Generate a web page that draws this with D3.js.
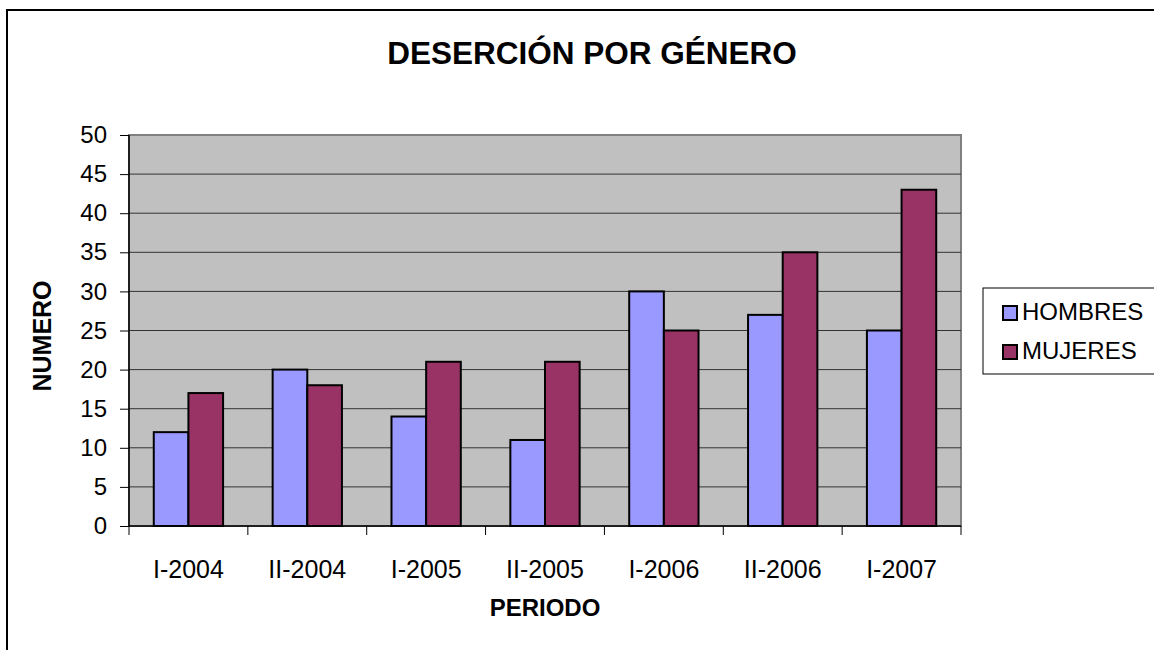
<!DOCTYPE html>
<html><head><meta charset="utf-8">
<script src="https://cdn.jsdelivr.net/npm/d3@7"></script>
<style>body{margin:0;background:#fff}svg{display:block;font-family:"Liberation Sans",Arial,sans-serif}</style>
</head><body><svg id="c" width="1154" height="650"></svg>
<script>
const categories = ["I-2004","II-2004","I-2005","II-2005","I-2006","II-2006","I-2007"];
const seriesNames = ["HOMBRES","MUJERES"];
const hombres = [12,20,14,11,30,27,25];
const mujeres = [17,18,21,21,25,35,43];
const yTicks = [0,5,10,15,20,25,30,35,40,45,50];
const colors = ["#9999FF","#993366"];

const svg = d3.select("#c");
const L=129, R=961, T=135, B=526;
const FF = "Liberation Sans, Arial, sans-serif";

svg.append("rect").attr("x",7).attr("y",10).attr("width",1200).attr("height",700)
  .attr("fill","#fff").attr("stroke","#000").attr("stroke-width",2);

const x = d3.scaleBand().domain(categories).range([L,R]).padding(0);
const y = d3.scaleLinear().domain([0,50]).range([B,T]);
const barW = x.bandwidth()/3.43;

svg.append("rect").attr("x",L).attr("y",T).attr("width",R-L).attr("height",B-T)
  .attr("fill","#C0C0C0").attr("stroke","#808080").attr("stroke-width",2);

svg.append("g").selectAll("line").data(yTicks.filter(d=>d>0&&d<50)).join("line")
  .attr("x1",L).attr("x2",R).attr("y1",d=>y(d)).attr("y2",d=>y(d))
  .attr("stroke","#333").attr("stroke-width",1);

const data = categories.map((c,i)=>({c, v:[hombres[i],mujeres[i]]}));
const g = svg.append("g");
data.forEach(d=>{
  d.v.forEach((v,j)=>{
    const cx = x(d.c)+x.bandwidth()/2;
    g.append("rect").attr("x",cx-barW+j*barW).attr("y",y(v)).attr("width",barW).attr("height",y(0)-y(v))
      .attr("fill",colors[j]).attr("stroke","#000").attr("stroke-width",2);
  });
});

const yAxis = d3.axisLeft(y).tickValues(yTicks).tickSize(9).tickPadding(13);
const ya = svg.append("g").attr("transform",`translate(${L},0)`).call(yAxis);
ya.attr("font-size",24).attr("font-family",FF);
ya.select(".domain").attr("stroke","#000").attr("stroke-width",1.5).attr("d",`M0,${T}V${B}`);
ya.selectAll(".tick line").attr("stroke","#000");
ya.selectAll("text").attr("fill","#000");

const xAxis = d3.axisBottom(x).tickSize(0).tickPadding(44);
const xa = svg.append("g").attr("transform",`translate(0,${B})`).call(xAxis);
xa.attr("font-size",25).attr("font-family",FF);
xa.select(".domain").attr("stroke","#000").attr("stroke-width",1.5).attr("d",`M${L},0H${R}`);
xa.selectAll("text").attr("fill","#000").attr("dy","0.32em");
const sep = categories.map(c=>x(c)).concat([R]);
svg.append("g").selectAll("line").data(sep).join("line")
  .attr("x1",d=>d).attr("x2",d=>d).attr("y1",B).attr("y2",B+9).attr("stroke","#000");

svg.append("text").attr("x",592).attr("y",64).attr("text-anchor","middle")
  .attr("font-size",31.5).attr("font-weight","bold").text("DESERCIÓN POR GÉNERO");
svg.append("text").attr("x",545).attr("y",616).attr("text-anchor","middle")
  .attr("font-size",24).attr("font-weight","bold").text("PERIODO");
svg.append("text").attr("transform","translate(51,336) rotate(-90)").attr("text-anchor","middle")
  .attr("font-size",25).attr("font-weight","bold").text("NUMERO");

const lg = svg.append("g");
lg.append("rect").attr("x",983).attr("y",288).attr("width",200).attr("height",86)
  .attr("fill","#fff").attr("stroke","#000").attr("stroke-width",1);
seriesNames.forEach((n,i)=>{
  const yy = 312 + i*39;
  lg.append("rect").attr("x",1003).attr("y",yy-6).attr("width",14).attr("height",14)
    .attr("fill",colors[i]).attr("stroke","#000").attr("stroke-width",2);
  lg.append("text").attr("x",1022).attr("y",yy+8).attr("font-size",24).text(n);
});
</script></body></html>
